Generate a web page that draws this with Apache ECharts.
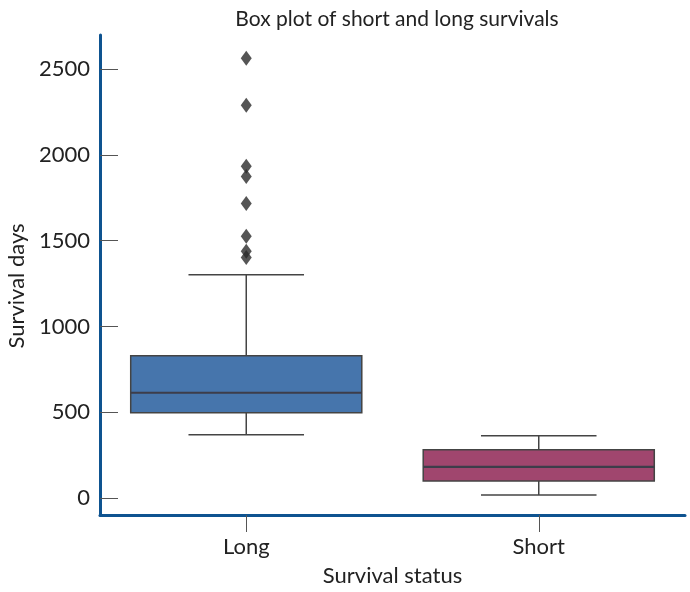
<!DOCTYPE html>
<html>
<head>
<meta charset="utf-8">
<script src="https://cdn.jsdelivr.net/npm/echarts@6/dist/echarts.min.js"></script>
<style>html,body{margin:0;padding:0;background:#fff}#c{width:690px;height:592px}</style>
</head>
<body>
<div id="c"></div>
<script>
const categories = ['Long', 'Short'];
// [min whisker, Q1, median, Q3, max whisker]
const boxStats = [
  [368, 496, 613, 829, 1302],
  [17, 99, 181, 280, 362]
];
const boxColors = ['#4675ac', '#a0466e'];
const outlierValues = [2564, 2290, 1935, 1875, 1717, 1526, 1439, 1402];
const yTicks = [0, 500, 1000, 1500, 2000, 2500];

const chart = echarts.init(document.getElementById('c'));
const boxData = boxStats.map((s, i) => ({
  value: [i].concat(s),
  itemStyle: { color: boxColors[i] }
}));
const outlierData = outlierValues.map(v => [0, v]);

chart.setOption({
  animation: false,
  title: {
    text: 'Box plot of short and long survivals',
    left: 392, top: 4, textAlign: 'center',
    textStyle: { fontFamily: 'Lato', fontWeight: 'normal', fontSize: 21, color: '#222' }
  },
  grid: { left: 100, right: 5, top: 35, bottom: 77, outerBoundsMode: 'none', containLabel: false },
  xAxis: {
    type: 'category', data: categories,
    name: 'Survival status', nameLocation: 'middle', nameGap: 50,
    nameTextStyle: { fontFamily: 'Lato', fontSize: 22, color: '#222' },
    axisLine: { onZero: false, lineStyle: { color: '#0e5390', width: 3 } },
    axisTick: { show: true, interval: 0, alignWithLabel: true, length: 17, lineStyle: { color: '#555', width: 1 } },
    axisLabel: { fontFamily: 'Lato', fontSize: 22, color: '#222', margin: 21 },
    splitLine: { show: false }
  },
  yAxis: {
    type: 'value', min: -100, max: 2700,
    name: 'Survival days', nameLocation: 'middle', nameGap: 71,
    nameTextStyle: { fontFamily: 'Lato', fontSize: 22, color: '#222', padding: [0, 22, 0, 0] },
    axisLine: { show: true, lineStyle: { color: '#0e5390', width: 3 } },
    axisTick: { show: true, inside: true, length: 18, customValues: yTicks, lineStyle: { color: '#555', width: 1 } },
    axisLabel: { fontFamily: 'Lato', fontSize: 22, color: '#222', margin: 10, customValues: yTicks,
      formatter: v => String(v) },
    splitLine: { show: false }
  },
  series: [
    {
      type: 'custom',
      data: boxData,
      encode: { x: 0, y: [1, 2, 3, 4, 5] },
      renderItem: function (params, api) {
        const x = api.value(0);
        const pMin = api.coord([x, api.value(1)]);
        const pQ1 = api.coord([x, api.value(2)]);
        const pMed = api.coord([x, api.value(3)]);
        const pQ3 = api.coord([x, api.value(4)]);
        const pMax = api.coord([x, api.value(5)]);
        const band = api.size([1, 0])[0];
        const bw = band * 0.79, cw = bw / 2;
        const cx = pMed[0];
        const stroke = { stroke: '#444', lineWidth: 1.5 };
        return {
          type: 'group',
          children: [
            { type: 'line', shape: { x1: cx, y1: pMin[1], x2: cx, y2: pQ1[1] }, style: stroke },
            { type: 'line', shape: { x1: cx, y1: pQ3[1], x2: cx, y2: pMax[1] }, style: stroke },
            { type: 'line', shape: { x1: cx - cw / 2, y1: pMin[1], x2: cx + cw / 2, y2: pMin[1] }, style: stroke },
            { type: 'line', shape: { x1: cx - cw / 2, y1: pMax[1], x2: cx + cw / 2, y2: pMax[1] }, style: stroke },
            { type: 'rect', shape: { x: cx - bw / 2, y: pQ3[1], width: bw, height: pQ1[1] - pQ3[1] },
              style: { fill: api.visual('color'), stroke: '#444', lineWidth: 1.5 } },
            { type: 'line', shape: { x1: cx - bw / 2, y1: pMed[1], x2: cx + bw / 2, y2: pMed[1] },
              style: { stroke: '#3d3d4a', lineWidth: 2.2 } }
          ]
        };
      }
    },
    {
      type: 'scatter',
      data: outlierData,
      symbol: 'diamond',
      symbolSize: [11, 15],
      itemStyle: { color: '#2a2a2a' },
      z: 5
    }
  ]
});
</script>
</body>
</html>
